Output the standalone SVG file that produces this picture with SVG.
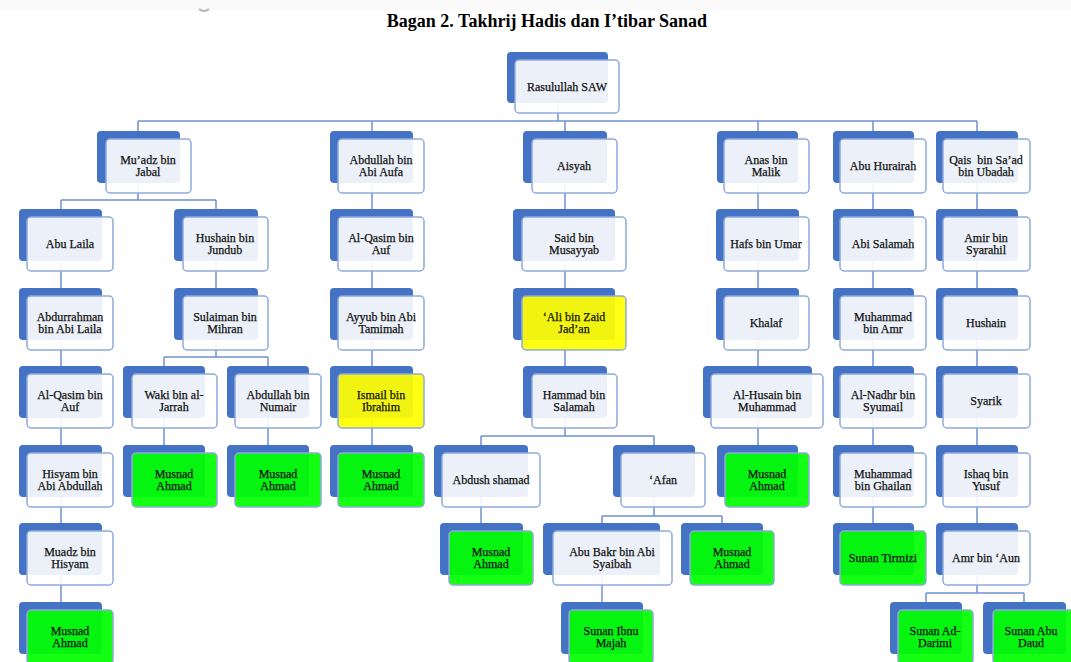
<svg xmlns="http://www.w3.org/2000/svg" width="1071" height="662" viewBox="0 0 1071 662">
<style>
.b{fill:#4472c4}
.f{fill:#ffffff;fill-opacity:0.9;stroke:#8eaadb;stroke-width:1.5}
.g{fill:#00ff00;fill-opacity:0.92;stroke:#8eaadb;stroke-width:1.5}
.y{fill:#ffff00;fill-opacity:0.92;stroke:#8eaadb;stroke-width:1.5}
text{font-family:"Liberation Serif","Times New Roman",serif;font-size:12px;fill:#111;stroke:#111;stroke-width:0.25;text-anchor:middle}
.title{font-size:18px;font-weight:bold;fill:#000;stroke:none}
#connectors path{fill:none;stroke:#6f91d4;stroke-width:1.5}
</style>
<rect x="0" y="0" width="1071" height="662" fill="#ffffff"/>
<rect x="0" y="0" width="1071" height="11" fill="#fafafa"/>
<path d="M199 9 Q204 13 209 9" fill="none" stroke="#b5b5b5" stroke-width="2"/>
<text class="title" x="547" y="27">Bagan 2. Takhrij Hadis dan I’tibar Sanad</text>

<g id="connectors">
<path d="M558 100V121M138 121H977M138 121V131M372 121V131M565 121V131M758 121V131M873 121V131M977 121V131"/>
<path d="M138 160V200M61 200H216M61 200V209M216 200V209"/>
<path d="M61 240V602"/>
<path d="M216 240V288M216 320V357M164 357H268M164 357V366M268 357V366"/>
<path d="M164 400V445M268 400V445"/>
<path d="M372 160V445"/>
<path d="M565 160V366M565 400V436M481 436H654M481 436V445M654 436V445"/>
<path d="M481 480V523"/>
<path d="M654 480V516M602 516H722M602 516V523M722 516V523"/>
<path d="M602 560V602"/>
<path d="M758 160V445"/>
<path d="M873 160V523"/>
<path d="M977 160V593M926 593H1024M926 593V602M1024 593V602"/>
</g>

<g id="n-rasulullah"><rect class="b" x="507" y="52" width="101" height="51" rx="4"/><rect class="f" x="515" y="60" width="104" height="53" rx="4"/><text x="567" y="91">Rasulullah SAW</text></g>

<!-- Level 1 -->
<g id="n-muadz"><rect class="b" x="97" y="131" width="83" height="52" rx="4"/><rect class="f" x="106" y="139" width="85" height="54" rx="4"/><text x="148" y="163.5">Mu’adz bin</text><text x="148" y="176">Jabal</text></g>
<g id="n-abdullah-aufa"><rect class="b" x="330" y="131" width="83" height="52" rx="4"/><rect class="f" x="338" y="139" width="86" height="54" rx="4"/><text x="381" y="163.5">Abdullah bin</text><text x="381" y="176">Abi Aufa</text></g>
<g id="n-aisyah"><rect class="b" x="523" y="131" width="84" height="52" rx="4"/><rect class="f" x="532" y="139" width="85" height="54" rx="4"/><text x="574" y="170">Aisyah</text></g>
<g id="n-anas"><rect class="b" x="717" y="131" width="81" height="52" rx="4"/><rect class="f" x="724" y="139" width="85" height="54" rx="4"/><text x="766" y="163.5">Anas bin</text><text x="766" y="176">Malik</text></g>
<g id="n-abuhurairah"><rect class="b" x="833" y="131" width="81" height="52" rx="4"/><rect class="f" x="840" y="139" width="86" height="54" rx="4"/><text x="883" y="170">Abu Hurairah</text></g>
<g id="n-qais"><rect class="b" x="936" y="131" width="82" height="52" rx="4"/><rect class="f" x="943" y="139" width="87" height="54" rx="4"/><text x="986" y="163.5" xml:space="preserve">Qais  bin Sa’ad</text><text x="986" y="176">bin Ubadah</text></g>

<!-- Column A -->
<g id="n-abulaila"><rect class="b" x="19" y="209" width="83" height="52" rx="4"/><rect class="f" x="27" y="217" width="86" height="54" rx="4"/><text x="70" y="248">Abu Laila</text></g>
<g id="n-abdurrahman"><rect class="b" x="19" y="288" width="83" height="52" rx="4"/><rect class="f" x="27" y="296" width="86" height="54" rx="4"/><text x="70" y="320.5">Abdurrahman</text><text x="70" y="333">bin Abi Laila</text></g>
<g id="n-alqasim-a"><rect class="b" x="19" y="366" width="83" height="52" rx="4"/><rect class="f" x="27" y="374" width="86" height="54" rx="4"/><text x="70" y="398.5">Al-Qasim bin</text><text x="70" y="411">Auf</text></g>
<g id="n-hisyam"><rect class="b" x="19" y="445" width="83" height="52" rx="4"/><rect class="f" x="27" y="453" width="86" height="54" rx="4"/><text x="70" y="477.5">Hisyam bin</text><text x="70" y="490">Abi Abdullah</text></g>
<g id="n-muadz-hisyam"><rect class="b" x="19" y="523" width="83" height="52" rx="4"/><rect class="f" x="27" y="531" width="86" height="54" rx="4"/><text x="70" y="555.5">Muadz bin</text><text x="70" y="568">Hisyam</text></g>
<g id="n-musnad-a"><rect class="b" x="19" y="602" width="83" height="52" rx="4"/><rect class="g" x="27" y="610" width="86" height="54" rx="4"/><text x="70" y="634.5">Musnad</text><text x="70" y="647">Ahmad</text></g>

<!-- Column B -->
<g id="n-hushain-jundub"><rect class="b" x="174" y="209" width="84" height="52" rx="4"/><rect class="f" x="183" y="217" width="85" height="54" rx="4"/><text x="225" y="241.5">Hushain bin</text><text x="225" y="254">Jundub</text></g>
<g id="n-sulaiman"><rect class="b" x="174" y="288" width="84" height="52" rx="4"/><rect class="f" x="183" y="296" width="85" height="54" rx="4"/><text x="225" y="320.5">Sulaiman bin</text><text x="225" y="333">Mihran</text></g>
<g id="n-waki"><rect class="b" x="123" y="366" width="82" height="52" rx="4"/><rect class="f" x="132" y="374" width="85" height="54" rx="4"/><text x="174" y="398.5">Waki bin al-</text><text x="174" y="411">Jarrah</text></g>
<g id="n-abdullah-numair"><rect class="b" x="227" y="366" width="82" height="52" rx="4"/><rect class="f" x="235" y="374" width="86" height="54" rx="4"/><text x="278" y="398.5">Abdullah bin</text><text x="278" y="411">Numair</text></g>
<g id="n-musnad-b1"><rect class="b" x="123" y="445" width="82" height="52" rx="4"/><rect class="g" x="132" y="453" width="85" height="54" rx="4"/><text x="174" y="477.5">Musnad</text><text x="174" y="490">Ahmad</text></g>
<g id="n-musnad-b2"><rect class="b" x="227" y="445" width="82" height="52" rx="4"/><rect class="g" x="235" y="453" width="86" height="54" rx="4"/><text x="278" y="477.5">Musnad</text><text x="278" y="490">Ahmad</text></g>

<!-- Column C -->
<g id="n-alqasim-c"><rect class="b" x="330" y="209" width="83" height="52" rx="4"/><rect class="f" x="338" y="217" width="86" height="54" rx="4"/><text x="381" y="241.5">Al-Qasim bin</text><text x="381" y="254">Auf</text></g>
<g id="n-ayyub"><rect class="b" x="330" y="288" width="83" height="52" rx="4"/><rect class="f" x="338" y="296" width="86" height="54" rx="4"/><text x="381" y="320.5">Ayyub bin Abi</text><text x="381" y="333">Tamimah</text></g>
<g id="n-ismail"><rect class="b" x="330" y="366" width="83" height="52" rx="4"/><rect class="y" x="338" y="374" width="86" height="54" rx="4"/><text x="381" y="398.5">Ismail bin</text><text x="381" y="411">Ibrahim</text></g>
<g id="n-musnad-c"><rect class="b" x="330" y="445" width="83" height="52" rx="4"/><rect class="g" x="338" y="453" width="86" height="54" rx="4"/><text x="381" y="477.5">Musnad</text><text x="381" y="490">Ahmad</text></g>

<!-- Column D -->
<g id="n-said"><rect class="b" x="513" y="209" width="102" height="52" rx="4"/><rect class="f" x="522" y="217" width="104" height="54" rx="4"/><text x="574" y="241.5">Said bin</text><text x="574" y="254">Musayyab</text></g>
<g id="n-ali"><rect class="b" x="513" y="288" width="102" height="52" rx="4"/><rect class="y" x="522" y="296" width="104" height="54" rx="4"/><text x="574" y="320.5">‘Ali bin Zaid</text><text x="574" y="333">Jad’an</text></g>
<g id="n-hammad"><rect class="b" x="523" y="366" width="84" height="52" rx="4"/><rect class="f" x="532" y="374" width="85" height="54" rx="4"/><text x="574" y="398.5">Hammad bin</text><text x="574" y="411">Salamah</text></g>
<g id="n-abdush"><rect class="b" x="434" y="445" width="94" height="52" rx="4"/><rect class="f" x="442" y="453" width="98" height="54" rx="4"/><text x="491" y="484">Abdush shamad</text></g>
<g id="n-afan"><rect class="b" x="613" y="445" width="82" height="52" rx="4"/><rect class="f" x="621" y="453" width="84" height="54" rx="4"/><text x="663" y="484">‘Afan</text></g>
<g id="n-musnad-d1"><rect class="b" x="440" y="523" width="83" height="52" rx="4"/><rect class="g" x="449" y="531" width="84" height="54" rx="4"/><text x="491" y="555.5">Musnad</text><text x="491" y="568">Ahmad</text></g>
<g id="n-abubakr"><rect class="b" x="543" y="523" width="117" height="52" rx="4"/><rect class="f" x="553" y="531" width="119" height="54" rx="4"/><text x="612" y="555.5">Abu Bakr bin Abi</text><text x="612" y="568">Syaibah</text></g>
<g id="n-musnad-d2"><rect class="b" x="681" y="523" width="82" height="52" rx="4"/><rect class="g" x="690" y="531" width="84" height="54" rx="4"/><text x="732" y="555.5">Musnad</text><text x="732" y="568">Ahmad</text></g>
<g id="n-ibnumajah"><rect class="b" x="561" y="602" width="82" height="52" rx="4"/><rect class="g" x="569" y="610" width="84" height="54" rx="4"/><text x="611" y="634.5">Sunan Ibnu</text><text x="611" y="647">Majah</text></g>

<!-- Column E -->
<g id="n-hafs"><rect class="b" x="716" y="209" width="83" height="52" rx="4"/><rect class="f" x="724" y="217" width="85" height="54" rx="4"/><text x="766" y="248">Hafs bin Umar</text></g>
<g id="n-khalaf"><rect class="b" x="716" y="288" width="83" height="52" rx="4"/><rect class="f" x="724" y="296" width="85" height="54" rx="4"/><text x="766" y="327">Khalaf</text></g>
<g id="n-alhusain"><rect class="b" x="703" y="366" width="109" height="52" rx="4"/><rect class="f" x="711" y="374" width="112" height="54" rx="4"/><text x="767" y="398.5">Al-Husain bin</text><text x="767" y="411">Muhammad</text></g>
<g id="n-musnad-e"><rect class="b" x="717" y="445" width="81" height="52" rx="4"/><rect class="g" x="725" y="453" width="84" height="54" rx="4"/><text x="767" y="477.5">Musnad</text><text x="767" y="490">Ahmad</text></g>

<!-- Column F -->
<g id="n-abisalamah"><rect class="b" x="833" y="209" width="81" height="52" rx="4"/><rect class="f" x="840" y="217" width="86" height="54" rx="4"/><text x="883" y="248">Abi Salamah</text></g>
<g id="n-muhammad-amr"><rect class="b" x="833" y="288" width="81" height="52" rx="4"/><rect class="f" x="840" y="296" width="86" height="54" rx="4"/><text x="883" y="320.5">Muhammad</text><text x="883" y="333">bin Amr</text></g>
<g id="n-alnadhr"><rect class="b" x="833" y="366" width="81" height="52" rx="4"/><rect class="f" x="840" y="374" width="86" height="54" rx="4"/><text x="883" y="398.5">Al-Nadhr bin</text><text x="883" y="411">Syumail</text></g>
<g id="n-muhammad-ghailan"><rect class="b" x="833" y="445" width="81" height="52" rx="4"/><rect class="f" x="840" y="453" width="86" height="54" rx="4"/><text x="883" y="477.5">Muhammad</text><text x="883" y="490">bin Ghailan</text></g>
<g id="n-tirmizi"><rect class="b" x="833" y="523" width="81" height="52" rx="4"/><rect class="g" x="840" y="531" width="86" height="54" rx="4"/><text x="883" y="562">Sunan Tirmizi</text></g>

<!-- Column G -->
<g id="n-amir"><rect class="b" x="936" y="209" width="82" height="52" rx="4"/><rect class="f" x="943" y="217" width="87" height="54" rx="4"/><text x="986" y="241.5">Amir bin</text><text x="986" y="254">Syarahil</text></g>
<g id="n-hushain"><rect class="b" x="936" y="288" width="82" height="52" rx="4"/><rect class="f" x="943" y="296" width="87" height="54" rx="4"/><text x="986" y="327">Hushain</text></g>
<g id="n-syarik"><rect class="b" x="936" y="366" width="82" height="52" rx="4"/><rect class="f" x="943" y="374" width="87" height="54" rx="4"/><text x="986" y="405">Syarik</text></g>
<g id="n-ishaq"><rect class="b" x="936" y="445" width="82" height="52" rx="4"/><rect class="f" x="943" y="453" width="87" height="54" rx="4"/><text x="986" y="477.5">Ishaq bin</text><text x="986" y="490">Yusuf</text></g>
<g id="n-amr"><rect class="b" x="936" y="523" width="82" height="52" rx="4"/><rect class="f" x="943" y="531" width="87" height="54" rx="4"/><text x="986" y="562">Amr bin ‘Aun</text></g>
<g id="n-darimi"><rect class="b" x="890" y="602" width="72" height="52" rx="4"/><rect class="g" x="898" y="610" width="75" height="54" rx="4"/><text x="935" y="634.5">Sunan Ad-</text><text x="935" y="647">Darimi</text></g>
<g id="n-abudaud"><rect class="b" x="983" y="602" width="83" height="52" rx="4"/><rect class="g" x="993" y="610" width="84" height="54" rx="4"/><text x="1031" y="634.5">Sunan Abu</text><text x="1031" y="647">Daud</text></g>
</svg>
